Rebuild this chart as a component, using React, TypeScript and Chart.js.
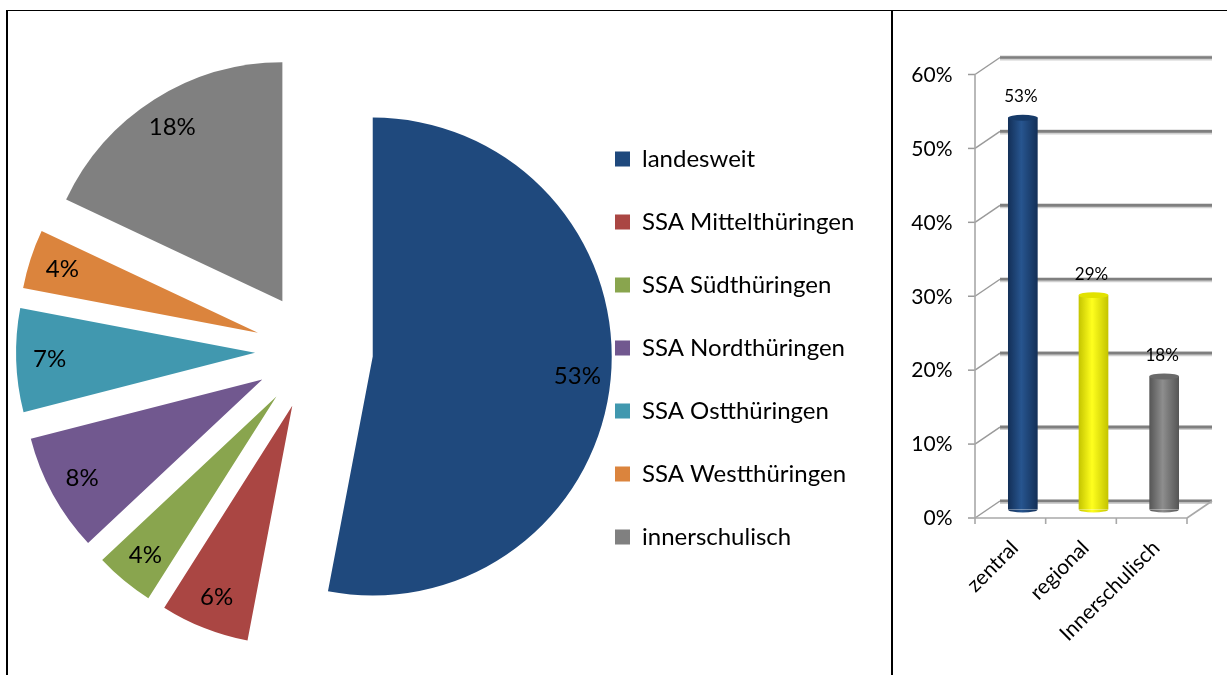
import React, { useEffect, useRef } from 'react';
import { Chart, registerables } from 'chart.js';

Chart.register(...registerables);
Chart.defaults.color = '#000';
Chart.defaults.font.family = 'Lato';

// ---------- data ----------
const pieLabels = [
  'landesweit',
  'SSA Mittelthüringen',
  'SSA Südthüringen',
  'SSA Nordthüringen',
  'SSA Ostthüringen',
  'SSA Westthüringen',
  'innerschulisch',
];
const pieValues = [53, 6, 4, 8, 7, 4, 18];
const pieColors = ['#1F497D', '#AA4643', '#89A54E', '#71588F', '#4198AF', '#DB843D', '#808080'];

const barLabels = ['zentral', 'regional', 'Innerschulisch'];
const barValues = [53, 29, 18];
const barMidColors = ['#27558f', '#ffff1e', '#8e8e8e'];
const barEdgeColors = ['#132f57', '#c4c400', '#555555'];
const barTopColors = ['#163a68', '#e2e200', '#6a6a6a'];
const yMax = 60;
const yStep = 10;

const FONT = 'Lato';

// ---------- pie ----------
const PIE_W = 883;
const PIE_H = 664;
const RADIUS = 239;
const EXPLODE = 59;
const LABEL_R = 0.86;

const explodePlugin = {
  id: 'explodeSlices',
  beforeDatasetDraw(chart: any, args: any) {
    const ctx = chart.ctx;
    args.meta.data.forEach((arc: any) => {
      const mid = (arc.startAngle + arc.endAngle) / 2;
      ctx.save();
      ctx.translate(Math.cos(mid) * EXPLODE, Math.sin(mid) * EXPLODE);
      arc.draw(ctx, chart.chartArea);
      ctx.restore();
    });
    return false;
  },
  afterDatasetsDraw(chart: any) {
    const ctx = chart.ctx;
    const meta = chart.getDatasetMeta(0);
    const data = chart.data.datasets[0].data;
    ctx.save();
    ctx.font = `24px ${FONT}`;
    ctx.fillStyle = '#000';
    ctx.textAlign = 'center';
    ctx.textBaseline = 'middle';
    meta.data.forEach((arc: any, i: number) => {
      const mid = (arc.startAngle + arc.endAngle) / 2;
      const r = EXPLODE + arc.outerRadius * LABEL_R;
      ctx.fillText(`${data[i]}%`, arc.x + Math.cos(mid) * r, arc.y + Math.sin(mid) * r);
    });
    ctx.restore();
  },
};

function PieChart() {
  const ref = useRef<HTMLCanvasElement>(null);
  useEffect(() => {
    const canvas = ref.current!;
    const legendFont = 24;
    const legendPad = 39;
    const box = 15;
    const boxX = 607;
    const centerX = 306;
    const centerY = 340;
    const firstItemCenter = 148;

    const m = document.createElement('canvas').getContext('2d')!;
    m.font = `${legendFont}px ${FONT}`;
    const textW = Math.max(...pieLabels.map((l) => m.measureText(l).width));
    const colW = box + legendFont / 2 + textW;
    const legendLeft = boxX - legendPad;
    const legendWidth = legendPad + colW + 10;
    const padTop = firstItemCenter - legendPad - legendFont / 2;
    const padBottom = PIE_H - (2 * centerY - padTop);
    const padLeft = 2 * centerX - legendLeft;
    const padRight = Math.max(0, PIE_W - legendLeft - legendWidth);

    const chart = new Chart(canvas, {
      type: 'pie',
      data: {
        labels: pieLabels,
        datasets: [
          {
            data: pieValues,
            backgroundColor: pieColors,
            borderWidth: 0,
            radius: RADIUS,
          } as any,
        ],
      },
      options: {
        animation: false,
        responsive: false,
        radius: RADIUS,
        layout: { padding: { top: padTop, bottom: padBottom, left: padLeft, right: padRight } },
        plugins: {
          legend: {
            position: 'right',
            align: 'start',
            labels: {
              boxWidth: box,
              boxHeight: box,
              padding: legendPad,
              color: '#000',
              font: { family: FONT, size: legendFont },
            },
          },
          tooltip: { enabled: false },
        },
      } as any,
      plugins: [explodePlugin],
    });
    return () => chart.destroy();
  }, []);
  return (
    <canvas
      ref={ref}
      width={PIE_W}
      height={PIE_H}
      style={{ position: 'absolute', left: 8, top: 11 }}
    />
  );
}

// ---------- bar ----------
const BAR_W = 333;
const BAR_H = 664;
const DEPTH_X = 12.5;
const DEPTH_Y = 8.5;
const BAR_PCT = 0.42;

function barGradient(ctx: CanvasRenderingContext2D, cx: number, hw: number, i: number) {
  const g = ctx.createLinearGradient(cx - hw, 0, cx + hw, 0);
  g.addColorStop(0, barEdgeColors[i]);
  g.addColorStop(0.45, barMidColors[i]);
  g.addColorStop(1, barEdgeColors[i]);
  return g;
}

const wallPlugin = {
  id: 'wall3d',
  beforeDatasetsDraw(chart: any) {
    const ctx = chart.ctx;
    const ys = chart.scales.y;
    const area = chart.chartArea;
    const fx = area.left - DEPTH_X;
    const bx = area.left + DEPTH_X;
    const bxr = area.right + DEPTH_X;
    const fxr = area.right - DEPTH_X;
    ctx.save();
    ctx.lineCap = 'butt';
    ys.ticks.forEach((t: any) => {
      const py = ys.getPixelForValue(t.value);
      const fy = py + DEPTH_Y;
      const by = py - DEPTH_Y;
      ctx.strokeStyle = '#d0d0d0';
      ctx.lineWidth = 5;
      ctx.beginPath();
      ctx.moveTo(bx, by + 0.5);
      ctx.lineTo(bxr, by + 0.5);
      ctx.stroke();
      ctx.strokeStyle = '#7f7f7f';
      ctx.lineWidth = 2.6;
      ctx.beginPath();
      ctx.moveTo(bx, by);
      ctx.lineTo(bxr, by);
      ctx.stroke();
      ctx.strokeStyle = '#9a9a9a';
      ctx.lineWidth = 1.5;
      ctx.beginPath();
      ctx.moveTo(fx, fy);
      ctx.lineTo(bx, by);
      ctx.stroke();
      ctx.beginPath();
      ctx.moveTo(fx - 7, fy);
      ctx.lineTo(fx, fy);
      ctx.stroke();
    });
    const yTop = ys.getPixelForValue(yMax) + DEPTH_Y;
    const y0 = ys.getPixelForValue(0);
    const y0f = y0 + DEPTH_Y;
    ctx.strokeStyle = '#a8a8a8';
    ctx.lineWidth = 1.6;
    ctx.beginPath();
    ctx.moveTo(fx, yTop);
    ctx.lineTo(fx, y0f);
    ctx.stroke();
    ctx.beginPath();
    ctx.moveTo(fx, y0f);
    ctx.lineTo(fxr, y0f);
    ctx.stroke();
    ctx.beginPath();
    ctx.moveTo(fxr, y0f);
    ctx.lineTo(bxr, y0 - DEPTH_Y);
    ctx.stroke();
    const n = chart.data.labels.length;
    for (let i = 0; i <= n; i++) {
      const x = area.left + (i * area.width) / n - DEPTH_X;
      ctx.beginPath();
      ctx.moveTo(x, y0f);
      ctx.lineTo(x, y0f + 6);
      ctx.stroke();
    }
    ctx.restore();
  },
  afterDatasetsDraw(chart: any) {
    const ctx = chart.ctx;
    const meta = chart.getDatasetMeta(0);
    const data = chart.data.datasets[0].data;
    ctx.save();
    meta.data.forEach((bar: any, i: number) => {
      const hw = bar.width / 2;
      const ry = bar.width * 0.1;
      ctx.fillStyle = barGradient(ctx, bar.x, hw, i);
      ctx.beginPath();
      ctx.ellipse(bar.x, bar.base, hw, ry, 0, 0, Math.PI);
      ctx.fill();
      ctx.fillStyle = barTopColors[i];
      ctx.beginPath();
      ctx.ellipse(bar.x, bar.y, hw, ry, 0, 0, Math.PI * 2);
      ctx.fill();
      ctx.fillStyle = '#000';
      ctx.font = `17px ${FONT}`;
      ctx.textAlign = 'center';
      ctx.textBaseline = 'middle';
      ctx.fillText(`${data[i]}%`, bar.x - 2, bar.y - 21);
    });
    ctx.restore();
  },
};

function BarChart() {
  const ref = useRef<HTMLCanvasElement>(null);
  useEffect(() => {
    const canvas = ref.current!;
    const chartTop = 55;
    const chartBottom = 498.5;
    const chartLeft = 93.5;
    const chartRight = 305.5;
    const chart = new Chart(canvas, {
      type: 'bar',
      data: {
        labels: barLabels,
        datasets: [
          {
            data: barValues,
            borderWidth: 0,
            barPercentage: BAR_PCT,
            categoryPercentage: 1,
            backgroundColor: (c: any) => {
              const i = c.dataIndex;
              const xs = c.chart.scales?.x;
              if (i === undefined || !xs) return barMidColors[0];
              const cx = xs.getPixelForValue(i);
              const hw = ((xs.width / barLabels.length) * BAR_PCT) / 2;
              if (!Number.isFinite(cx) || !Number.isFinite(hw) || hw <= 0) return barMidColors[i];
              return barGradient(c.chart.ctx, cx, hw, i);
            },
          },
        ],
      },
      options: {
        animation: false,
        responsive: false,
        layout: { padding: { top: chartTop, right: BAR_W - chartRight, left: 0, bottom: 0 } },
        plugins: { legend: { display: false }, tooltip: { enabled: false } },
        scales: {
          x: {
            grid: { display: false },
            border: { display: false },
            ticks: {
              color: '#000',
              font: { family: FONT, size: 21 },
              minRotation: 45,
              maxRotation: 45,
              padding: 18,
              labelOffset: -8,
            },
            afterFit: (s: any) => {
              s.height = BAR_H - chartBottom;
            },
          },
          y: {
            min: 0,
            max: yMax,
            grid: { display: false },
            border: { display: false },
            ticks: {
              stepSize: yStep,
              color: '#000',
              font: { family: FONT, size: 21 },
              padding: 27,
              labelOffset: 9,
              callback: (v: any) => `${v}%`,
            },
            afterFit: (s: any) => {
              s.width = chartLeft;
            },
          },
        },
      } as any,
      plugins: [wallPlugin],
    });
    return () => chart.destroy();
  }, []);
  return (
    <canvas
      ref={ref}
      width={BAR_W}
      height={BAR_H}
      style={{ position: 'absolute', left: 894, top: 11 }}
    />
  );
}

export default function App() {
  return (
    <div
      style={{
        position: 'absolute',
        left: 0,
        top: 0,
        width: 1227,
        height: 675,
        overflow: 'hidden',
        background: '#fff',
      }}
    >
      <div style={{ position: 'absolute', left: 6, top: 10, width: 1221, height: 1, background: '#000' }} />
      <div style={{ position: 'absolute', left: 6, top: 10, width: 2, height: 665, background: '#000' }} />
      <div style={{ position: 'absolute', left: 891, top: 10, width: 2, height: 665, background: '#000' }} />
      <PieChart />
      <BarChart />
    </div>
  );
}
